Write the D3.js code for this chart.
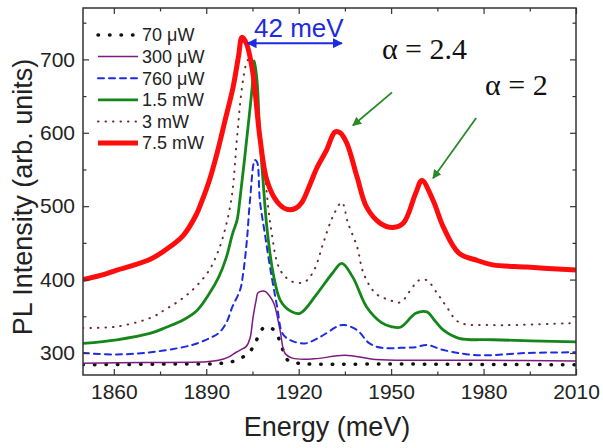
<!DOCTYPE html>
<html>
<head>
<meta charset="utf-8">
<script src="https://cdn.jsdelivr.net/npm/d3@7"></script>
<style>
  body { margin: 0; background: #fff; }
  svg { display: block; }
</style>
</head>
<body>
<script>
const width = 603, height = 448;
const margin = {top: 8, right: 27, bottom: 73, left: 83};
const sans = "Liberation Sans, Arial, sans-serif";
const serif = "Liberation Serif, Times New Roman, serif";

// [energy (meV), PL intensity]
const p70uW = [[1850,284],[1880,285],[1895,286],[1899.7,290],[1904,301],[1906,315],[1908.5,334],[1910.5,335],[1912.5,329],[1914.6,307],[1916.5,290],[1920,286],[1950,285],[2010,284]];
const p300uW = [[1850,286],[1870,287],[1890,288],[1894,290],[1897,294],[1899.7,301],[1901,304],[1903,309],[1904.2,320],[1905.2,349],[1906.2,372],[1906.8,382],[1909,384],[1910.5,378],[1912,367],[1914,330],[1915.5,300],[1918,293],[1925,292],[1935,297],[1945,291],[1960,290],[1980,290],[2010,289]];
const p760uW = [[1850,300],[1861,298],[1872,301],[1882.5,308],[1887,313],[1891,320],[1894,327],[1896.5,341],[1898.5,363],[1901,386],[1902,409],[1903.2,454],[1904.2,508],[1905.8,563],[1906.5,560],[1907.4,508],[1909,463],[1910.7,417],[1913,363],[1914.7,327],[1917,318],[1922,313],[1927,322],[1933,337],[1935,338],[1939,331],[1943,313],[1947,307],[1953,307],[1958,308],[1961.6,311],[1967,304],[1978,297],[1994,300],[2010,301]];
const p1500uW = [[1850,313],[1861,318],[1872,327],[1877,335],[1882.5,345],[1887,358],[1891,381],[1894,403],[1896.5,430],[1898.5,462],[1900,481],[1901,512],[1903.2,594],[1904.9,662],[1905.6,698],[1906.5,670],[1907.4,594],[1908.5,531],[1909.7,470],[1911.7,409],[1914,372],[1917,358],[1920.4,354],[1926,381],[1931,409],[1934,422],[1937.6,403],[1942,363],[1947,341],[1950,336],[1953,335],[1958,354],[1961.6,356],[1964,345],[1967,331],[1972,320],[1983,318],[2010,315]];
const p3mW = [[1850,334],[1861,336],[1872,348],[1877,360],[1882.5,375],[1887,392],[1891,413],[1894,440],[1896.5,475],[1898.4,517],[1900,594],[1901.6,662],[1903,694],[1903.8,700],[1905,690],[1907,620],[1909,545],[1911,470],[1914,413],[1918,397],[1922,397],[1925,413],[1928,450],[1931,485],[1934,505],[1936,477],[1939,444],[1941,409],[1945,381],[1949.6,372],[1953,369],[1957,390],[1959,399],[1961.6,399],[1965,381],[1968,363],[1972,342],[1983,338],[2010,341]];
const p7500uW = [[1850,400],[1856,406],[1861,413],[1866,419],[1872,428],[1877,441],[1882.5,460],[1886.7,488],[1888.5,506],[1891,535],[1893.5,572],[1896,615],[1898.7,662],[1900.5,705],[1901.6,730],[1903,722],[1905,685],[1907.4,594],[1909.7,535],[1913,506],[1916,496],[1919,497],[1921,505],[1923.7,530],[1926,553],[1929,576],[1931.8,601],[1933.5,600],[1935.6,586],[1939,539],[1942,499],[1946.4,477],[1950.6,471],[1954,477],[1958,518],[1960,535],[1963.6,508],[1967,471],[1972,436],[1978,426],[1983,420],[1994,417],[2010,413]];

const seriesNames = ["70 \u03bcW", "300 \u03bcW", "760 \u03bcW", "1.5 mW", "3 mW", "7.5 mW"];
const seriesData = [p70uW, p300uW, p760uW, p1500uW, p3mW, p7500uW];

const xTicks = [1860, 1890, 1920, 1950, 1980, 2010];
const xMinor = [1875, 1905, 1935, 1965, 1995];
const yTicks = [300, 400, 500, 600, 700];
const yMinor = [350, 450, 550, 650, 750];

const styles = [
  {color: "#111", width: 3.5, dash: "0.5,11"},
  {color: "#7d1a80", width: 1.5, dash: null},
  {color: "#1f2be0", width: 2, dash: "6,5"},
  {color: "#14861a", width: 2.8, dash: null},
  {color: "#6e2a2a", width: 2, dash: "0.5,7"},
  {color: "#ff0d0d", width: 5, dash: null}
];

const x = d3.scaleLinear().domain([1850, 2010]).range([margin.left, width - margin.right]);
const y = d3.scaleLinear().domain([270, 770]).range([height - margin.bottom, margin.top]);

const svg = d3.select("body").append("svg")
    .attr("width", width).attr("height", height)
    .style("font-family", sans);

const defs = svg.append("defs");
const marker = (id, color, orient) => defs.append("marker")
    .attr("id", id).attr("viewBox", "0 0 10 10")
    .attr("refX", 9).attr("refY", 5)
    .attr("markerWidth", 5).attr("markerHeight", 5)
    .attr("markerUnits", "strokeWidth")
    .attr("orient", orient)
  .append("path").attr("d", "M0,0L10,5L0,10z").attr("fill", color);
marker("blueHead", "#1f2be0", "auto-start-reverse");
marker("greenHead", "#2a8a2a", "auto");

svg.append("clipPath").attr("id", "clip").append("rect")
    .attr("x", margin.left).attr("y", margin.top)
    .attr("width", width - margin.left - margin.right)
    .attr("height", height - margin.top - margin.bottom);

const line = d3.line()
    .x(d => x(d[0])).y(d => y(d[1]))
    .curve(d3.curveCatmullRom.alpha(0.5));

svg.append("g").attr("clip-path", "url(#clip)")
  .selectAll("path")
  .data(seriesData)
  .join("path")
    .attr("d", line)
    .attr("fill", "none")
    .attr("stroke", (d, i) => styles[i].color)
    .attr("stroke-width", (d, i) => styles[i].width)
    .attr("stroke-dasharray", (d, i) => styles[i].dash)
    .attr("stroke-linecap", (d, i) => styles[i].dash ? "round" : "butt")
    .attr("stroke-linejoin", "round");

// axes, ticks inward on all four sides
const gBottom = svg.append("g")
    .attr("transform", `translate(0,${height - margin.bottom})`)
    .call(d3.axisBottom(x).tickValues(xTicks).tickSize(-6).tickPadding(9).tickFormat(d3.format("d")));
gBottom.append("g").call(d3.axisBottom(x).tickValues(xMinor).tickSize(-3.5).tickFormat(""));
const gLeft = svg.append("g")
    .attr("transform", `translate(${margin.left},0)`)
    .call(d3.axisLeft(y).tickValues(yTicks).tickSize(-6).tickPadding(8));
gLeft.append("g").call(d3.axisLeft(y).tickValues(yMinor).tickSize(-3.5).tickFormat(""));
const gTop = svg.append("g")
    .attr("transform", `translate(0,${margin.top})`)
    .call(d3.axisTop(x).tickValues(xTicks).tickSize(-6).tickFormat(""));
gTop.append("g").call(d3.axisTop(x).tickValues(xMinor).tickSize(-3.5).tickFormat(""));
const gRight = svg.append("g")
    .attr("transform", `translate(${width - margin.right},0)`)
    .call(d3.axisRight(y).tickValues(yTicks).tickSize(-6).tickFormat(""));
gRight.append("g").call(d3.axisRight(y).tickValues(yMinor).tickSize(-3.5).tickFormat(""));

svg.selectAll(".domain").remove();
svg.selectAll(".tick line").attr("stroke", "#333").attr("stroke-width", 1.2);
svg.selectAll(".tick text").attr("fill", "#222")
    .style("font-size", "21px").style("font-family", sans);

svg.append("rect")
    .attr("x", margin.left).attr("y", margin.top)
    .attr("width", width - margin.left - margin.right)
    .attr("height", height - margin.top - margin.bottom)
    .attr("fill", "none").attr("stroke", "#333").attr("stroke-width", 1.5);

// axis titles
svg.append("text")
    .attr("x", 327).attr("y", 436)
    .attr("text-anchor", "middle")
    .style("font-size", "27px").attr("fill", "#222")
    .text("Energy (meV)");
svg.append("text")
    .attr("transform", "translate(32,197) rotate(-90)")
    .attr("text-anchor", "middle")
    .style("font-size", "27px").attr("fill", "#222")
    .text("PL Intensity (arb. units)");

// legend
const legend = svg.append("g");
seriesNames.forEach((name, i) => {
  const ly = 35 + i * 21.6;
  legend.append("line")
      .attr("x1", 98).attr("x2", 138).attr("y1", ly).attr("y2", ly)
      .attr("stroke", styles[i].color)
      .attr("stroke-width", styles[i].width)
      .attr("stroke-dasharray", styles[i].dash)
      .attr("stroke-linecap", styles[i].dash ? "round" : "butt");
  legend.append("text")
      .attr("x", 142).attr("y", ly).attr("dy", "0.35em")
      .style("font-size", "18px").attr("fill", "#222")
      .text(name);
});

// 42 meV annotation
svg.append("line")
    .attr("x1", x(1903.4)).attr("x2", x(1934))
    .attr("y1", y(722)).attr("y2", y(722))
    .attr("stroke", "#1f2be0").attr("stroke-width", 2)
    .attr("marker-start", "url(#blueHead)")
    .attr("marker-end", "url(#blueHead)");
svg.append("text")
    .attr("x", x(1905.5)).attr("y", y(730))
    .style("font-size", "26px").attr("fill", "#1f2be0")
    .text("42 meV");

// alpha labels and arrows
svg.append("text")
    .attr("x", x(1947)).attr("y", y(701))
    .style("font-family", serif).style("font-size", "30px").attr("fill", "#111")
    .text("\u03b1 = 2.4");
svg.append("text")
    .attr("x", x(1980.5)).attr("y", y(651))
    .style("font-family", serif).style("font-size", "30px").attr("fill", "#111")
    .text("\u03b1 = 2");

const arrows = [[[1950.3, 655], [1937.6, 610]], [[1977.6, 620], [1963.6, 538]]];
svg.selectAll("line.arrow")
  .data(arrows)
  .join("line")
    .attr("class", "arrow")
    .attr("x1", d => x(d[0][0])).attr("y1", d => y(d[0][1]))
    .attr("x2", d => x(d[1][0])).attr("y2", d => y(d[1][1]))
    .attr("stroke", "#2a8a2a").attr("stroke-width", 1.8)
    .attr("marker-end", "url(#greenHead)");
</script>
</body>
</html>
